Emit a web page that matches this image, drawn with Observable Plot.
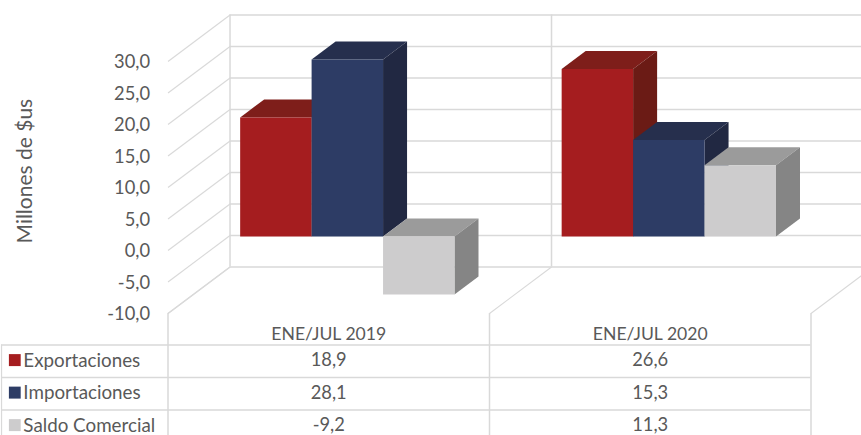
<!DOCTYPE html>
<html><head><meta charset="utf-8">
<script src="https://cdn.jsdelivr.net/npm/d3@7"></script>
<script src="https://cdn.jsdelivr.net/npm/@observablehq/plot@0.6"></script>
<style>html,body{margin:0;padding:0;background:#fff;overflow:hidden}svg{display:block}</style>
</head><body><div id="chart"></div>
<script>
const categories = ["ENE/JUL 2019", "ENE/JUL 2020"];
const seriesNames = ["Exportaciones", "Importaciones", "Saldo Comercial"];
const exportaciones = [18.9, 26.6];
const importaciones = [28.1, 15.3];
const saldo = [-9.2, 11.3];
const yTicks = [-10, -5, 0, 5, 10, 15, 20, 25, 30];
const faceColors = [
  {front: "#a51d1f", top: "#7e1e1a", side: "#6b1b15"},
  {front: "#2d3c65", top: "#262f4d", side: "#212842"},
  {front: "#cdcccd", top: "#9b9b9b", side: "#858585"}
];
const series = [exportaciones, importaciones, saldo];

// Geometry in scale units: x = one bar width, y = Millones de $us
const catWidth = 4.5, gap = 0.75;
const depthX = 0.868, depthY = 7.38;            // wall depth
const planeX = 0.26, planeY = 2.22;             // bar front plane offset
const barDX = 0.336, barDY = 2.86;              // bar depth
const xEnd = catWidth * categories.length;
const headLine = -15, rowStep = -5.16, tableBottom = -30;
const comma = v => d3.format(".1f")(v).replace(".", ",").replace("\u2212", "-");

// Faces
const faces = [];
categories.forEach((c, ci) => {
  series.forEach((vals, si) => {
    const v = vals[ci], x0 = ci * catWidth + planeX + gap + si, x1 = x0 + 1;
    const top = Math.max(v, 0) + planeY, base = Math.min(v, 0) + planeY, col = faceColors[si];
    const poly = (name, fill, pts) => pts.concat([pts[0]]).forEach(([x, y]) => faces.push({id: `${ci}-${si}-${name}`, fill, x, y}));
    poly("top", col.top, [[x0, top], [x1, top], [x1 + barDX, top + barDY], [x0 + barDX, top + barDY]]);
    poly("side", col.side, [[x1, top], [x1 + barDX, top + barDY], [x1 + barDX, base + barDY], [x1, base]]);
    poly("front", col.front, [[x0, base], [x1, base], [x1, top], [x0, top]]);
  });
});

// Table rows
const rows = [];
seriesNames.forEach((name, si) => categories.forEach((c, ci) => rows.push({
  si, x: (ci + 0.5) * catWidth, label: comma(series[si][ci]), y: headLine + rowStep * (si + 0.48)
})));
const legend = seriesNames.map((name, si) => ({name, si, y: headLine + rowStep * (si + 0.48), fill: faceColors[si].front}));
const wallX = d3.range(categories.length + 1).map(i => i * catWidth);
const tableLines = d3.range(seriesNames.length).map(i => headLine + rowStep * i);
const grid = "#d9d9d9";
const text = "#595959";

const plot = Plot.plot({
  width: 861, height: 435,
  marginLeft: 167.5, marginRight: 50.5, marginTop: 61, marginBottom: 122,
  x: {type: "linear", domain: [0, xEnd], axis: null},
  y: {type: "linear", domain: [-10, 30]},
  color: {type: "identity"},
  style: {fontFamily: "Lato", fontSize: "18px", color: text, background: "#fff", overflow: "hidden"},
  marks: [
    // back wall horizontals
    Plot.ruleY(yTicks, {y: d => d + depthY, x1: depthX, x2: xEnd + depthX, stroke: grid, strokeWidth: 1.5}),
    // back wall verticals
    Plot.ruleX(wallX, {x: d => d + depthX, y1: -10 + depthY, y2: 30 + depthY, stroke: grid, strokeWidth: 1.5}),
    // side wall diagonals
    Plot.link(yTicks, {x1: 0, x2: depthX, y1: d => d, y2: d => d + depthY, stroke: grid, strokeWidth: 1.1}),
    // floor diagonals
    Plot.link(wallX, {x1: d => d, x2: d => d + depthX, y1: -10, y2: -10 + depthY, stroke: grid, strokeWidth: 1.1}),
    // table
    Plot.ruleX(wallX, {x: d => d, y1: -10, y2: tableBottom, stroke: grid, strokeWidth: 1.5}),
    Plot.ruleX([-2.33], {x: d => d, y1: headLine, y2: tableBottom, stroke: grid, strokeWidth: 1.2}),
    Plot.ruleY(tableLines, {y: d => d, x1: -2.33, x2: xEnd, stroke: grid, strokeWidth: 1.5}),
    // bars
    Plot.line(faces, {x: "x", y: "y", z: "id", fill: "fill", stroke: null, curve: "linear"}),
    // axis
    Plot.axisY({ticks: yTicks, tickSize: 0, tickPadding: 18, tickFormat: comma, fontSize: 18.3, fill: text, label: null, anchor: "left", dy: 1}),
    Plot.text(["Millones de $us"], {x: -2.0, y: 12.6, rotate: -90, fontSize: 21, fill: text}),
    // table text
    Plot.text(categories, {x: (d, i) => (i + 0.5) * catWidth, y: -13.3, fontSize: 17.6, fill: text}),
    Plot.text(rows, {x: "x", y: "y", text: "label", fontSize: 18.3, fill: text}),
    Plot.rect(legend, {x1: -2.22, x2: -2.055, y1: d => d.y + 0.95, y2: d => d.y - 0.95, fill: "fill"}),
    Plot.text(legend, {x: -2.025, y: "y", text: "name", textAnchor: "start", fontSize: 18.8, fill: text})
  ]
});
document.getElementById("chart").appendChild(plot);
</script></body></html>
